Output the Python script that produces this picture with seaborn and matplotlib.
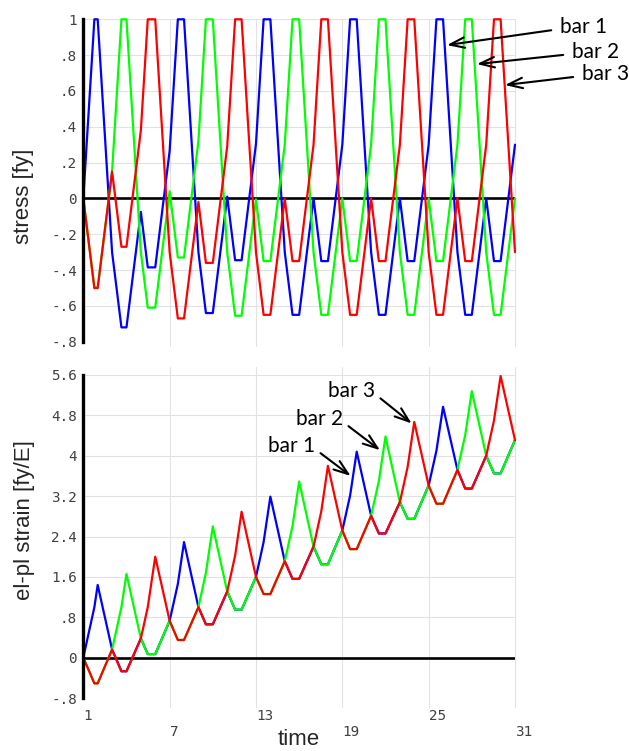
import numpy as np
import pandas as pd
import matplotlib
matplotlib.use("Agg")
import matplotlib.pyplot as plt
import seaborn as sns

# Time instants of the piecewise-linear history: integer load steps plus yield onsets
time = [1, 1.77, 2, 3, 3.65, 4, 5, 5.48, 6, 7, 7.57, 8, 9, 9.52, 10,
        11, 11.55, 12, 13, 13.53, 14, 15, 15.54, 16, 17, 17.54, 18,
        19, 19.54, 20, 21, 21.54, 22, 23, 23.54, 24, 25, 25.54, 26,
        27, 27.54, 28, 29, 29.54, 30, 31]

# Stress in units of fy
stress_bar1 = [0, 1, 1, -0.3, -0.72, -0.72, -0.075, -0.385, -0.385,
               0.265, 1, 1, -0.3, -0.64, -0.64, 0.01, -0.345, -0.345,
               0.305, 1, 1, -0.3, -0.65, -0.65, 0.0, -0.35, -0.35,
               0.3, 1, 1, -0.3, -0.65, -0.65, 0.0, -0.35, -0.35,
               0.3, 1, 1, -0.3, -0.65, -0.65, 0.0, -0.35, -0.35, 0.3]
stress_bar2 = [0, -0.5, -0.5, 0.15, 1, 1, -0.3, -0.61, -0.61,
               0.04, -0.33, -0.33, 0.32, 1, 1, -0.3, -0.655, -0.655,
               -0.005, -0.35, -0.35, 0.3, 1, 1, -0.3, -0.65, -0.65,
               0.0, -0.35, -0.35, 0.3, 1, 1, -0.3, -0.65, -0.65,
               0.0, -0.35, -0.35, 0.3, 1, 1, -0.3, -0.65, -0.65, 0.0]
stress_bar3 = [0, -0.5, -0.5, 0.15, -0.27, -0.27, 0.38, 1, 1,
               -0.3, -0.67, -0.67, -0.02, -0.36, -0.36, 0.29, 1, 1,
               -0.3, -0.65, -0.65, 0.0, -0.35, -0.35, 0.3, 1, 1,
               -0.3, -0.65, -0.65, 0.0, -0.35, -0.35, 0.3, 1, 1,
               -0.3, -0.65, -0.65, 0.0, -0.35, -0.35, 0.3, 1, 1, -0.3]

# Elastic-plastic strain in units of fy/E
strain_bar1 = [0, 1.0, 1.44, 0.16, -0.27, -0.27, 0.38, 0.07, 0.07,
               0.73, 1.46, 2.29, 1.0, 0.66, 0.66, 1.31, 0.95, 0.95,
               1.6, 2.29, 3.19, 1.91, 1.56, 1.56, 2.2, 1.85, 1.85,
               2.52, 3.21, 4.08, 2.81, 2.46, 2.46, 3.08, 2.75, 2.75,
               3.41, 4.1, 4.97, 3.72, 3.35, 3.35, 4.0, 3.65, 3.65, 4.31]
strain_bar2 = [0, -0.51, -0.51, 0.16, 1.0, 1.66, 0.38, 0.07, 0.07,
               0.73, 0.35, 0.35, 1.0, 1.68, 2.6, 1.31, 0.95, 0.95,
               1.6, 1.26, 1.26, 1.91, 2.61, 3.49, 2.2, 1.85, 1.85,
               2.52, 2.15, 2.15, 2.81, 3.5, 4.38, 3.08, 2.75, 2.75,
               3.41, 3.05, 3.05, 3.72, 4.41, 5.28, 4.0, 3.65, 3.65, 4.31]
strain_bar3 = [0, -0.51, -0.51, 0.16, -0.27, -0.27, 0.38, 1.0, 2.0,
               0.73, 0.35, 0.35, 1.0, 0.66, 0.66, 1.31, 2.02, 2.89,
               1.6, 1.26, 1.26, 1.91, 1.56, 1.56, 2.2, 2.9, 3.8,
               2.52, 2.15, 2.15, 2.81, 2.46, 2.46, 3.08, 3.78, 4.67,
               3.41, 3.05, 3.05, 3.72, 3.35, 3.35, 4.0, 4.7, 5.58, 4.31]

bars = ["bar 1", "bar 2", "bar 3"]
colors = ["#0000ff", "#00ff00", "#ff0000"]

stress_ticks = [1, 0.8, 0.6, 0.4, 0.2, 0, -0.2, -0.4, -0.6, -0.8]
stress_labels = ["1", ".8", ".6", ".4", ".2", "0", "-.2", "-.4", "-.6", "-.8"]
strain_ticks = [5.6, 4.8, 4, 3.2, 2.4, 1.6, 0.8, 0, -0.8]
strain_labels = ["5.6", "4.8", "4", "3.2", "2.4", "1.6", ".8", "0", "-.8"]
time_ticks = [1, 7, 13, 19, 25, 31]
time_labels = ["1", "\n7", "13", "\n19", "25", "\n31"]

df = pd.concat([
    pd.DataFrame({"time": time, "stress": s, "strain": e, "bar": b})
    for b, s, e in zip(bars,
                       [stress_bar1, stress_bar2, stress_bar3],
                       [strain_bar1, strain_bar2, strain_bar3])
], ignore_index=True)

sns.set_style("white")
plt.rcParams["font.family"] = ["Liberation Sans", "DejaVu Sans"]

W, H = 629, 751
fig = plt.figure(figsize=(W / 100, H / 100), dpi=100)
x0, x1 = 83.3, 515.0
ax1 = fig.add_axes([x0 / W, 1 - 341.7 / H, (x1 - x0) / W, (341.7 - 19.3) / H])
ax2 = fig.add_axes([x0 / W, 1 - 698.0 / H, (x1 - x0) / W, (698.0 - 375.0) / H])

grid_c = "#e2e2e2"
tick_font = dict(fontfamily="DejaVu Sans Mono", fontsize=10.3, color="#404040")

for ax, ycol, yt, yl, ylim, ext in [
        (ax1, "stress", stress_ticks, stress_labels, (-0.8, 1.0), (-0.014, 1.0)),
        (ax2, "strain", strain_ticks, strain_labels, (-0.8, 5.6), (-0.028, 1.025))]:
    sns.lineplot(data=df, x="time", y=ycol, hue="bar", hue_order=bars,
                 palette=colors, estimator=None, sort=False, legend=False,
                 linewidth=1.6, ax=ax, zorder=3)
    for ln in ax.get_lines():
        ln.set_clip_on(False)
    ax.set_xlim(1, 31)
    ax.set_ylim(*ylim)
    ax.set_yticks(yt)
    ax.set_yticklabels(yl, **tick_font)
    ax.tick_params(axis="y", length=0, pad=4.5)
    ax.yaxis.grid(True, color=grid_c, lw=0.8, zorder=0)
    ax.xaxis.grid(False)
    ax.set_axisbelow(True)
    for t in time_ticks[1:]:
        ax.axvline(t, ymin=ext[0], ymax=ext[1], color=grid_c, lw=0.8,
                   clip_on=False, zorder=0.5)
    ax.axhline(0, color="black", lw=1.9, zorder=2)
    for side in ["top", "right", "bottom"]:
        ax.spines[side].set_visible(False)
    ax.spines["left"].set_color("black")
    ax.spines["left"].set_linewidth(2.4)
    ax.spines["left"].set_zorder(4)
    ax.set_xlabel("")
    ax.set_ylabel("")

ax1.set_xticks([])
ax2.set_xticks(time_ticks)
ax2.set_xticklabels(time_labels, ha="left", **tick_font)
ax2.tick_params(axis="x", length=0, pad=8)

fig.text(24 / W, 1 - 196 / H, "stress [fy]", rotation=90, ha="center",
         va="center", fontsize=16)
fig.text(25 / W, 1 - 520 / H, "el-pl strain [fy/E]", rotation=90,
         ha="center", va="center", fontsize=16)
fig.text(299 / W, 1 / H, "time", ha="center", va="bottom", fontsize=16)

arrow = dict(arrowstyle="->,head_length=0.7,head_width=0.25", color="black",
             lw=1.5, shrinkB=0)
note_font = dict(fontfamily="Lato", fontsize=15, color="black")

# Labels pointing at the stress curves
for lab, tip, txt in [("bar 1", (26.27, 0.856), (560, H - 33)),
                      ("bar 2", (28.35, 0.75), (572, H - 58)),
                      ("bar 3", (30.30, 0.633), (582, H - 80))]:
    ax1.annotate(lab, xy=tip, xycoords="data", xytext=txt,
                 textcoords="figure pixels", ha="left", va="baseline",
                 annotation_clip=False,
                 arrowprops=dict(arrow, relpos=(0, 0.4), shrinkA=4),
                 **note_font)

# Labels pointing at the strain curves
for lab, tip, txt in [("bar 3", (23.82, 4.64), (375, H - 397)),
                      ("bar 2", (21.62, 4.11), (343, H - 425)),
                      ("bar 1", (19.58, 3.60), (315, H - 452))]:
    ax2.annotate(lab, xy=tip, xycoords="data", xytext=txt,
                 textcoords="figure pixels", ha="right", va="baseline",
                 annotation_clip=False,
                 arrowprops=dict(arrow, relpos=(1, 0.35), shrinkA=2),
                 **note_font)

fig.savefig("out.png", dpi=100, facecolor="white")
